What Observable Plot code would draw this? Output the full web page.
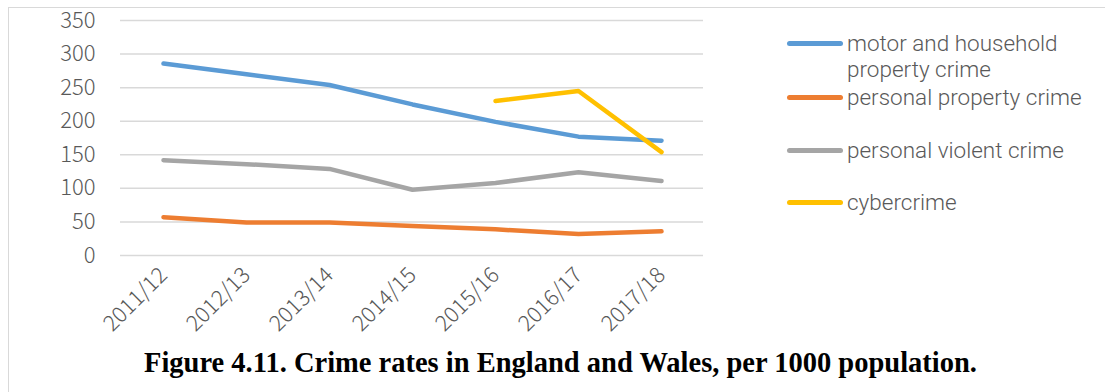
<!DOCTYPE html>
<html>
<head>
<meta charset="utf-8">
<script src="https://cdn.jsdelivr.net/npm/d3@7"></script>
<script src="https://cdn.jsdelivr.net/npm/@observablehq/plot@0.6"></script>
<style>
  html, body { margin: 0; padding: 0; background: #fff; }
  #frame {
    position: absolute; left: 8px; top: 7px; width: 1200px; height: 420px;
    border: 1.5px solid #d9d9d9; box-sizing: border-box;
  }
  #chart { position: absolute; left: 0; top: 0; }
  #legend {
    position: absolute; left: 787px; top: 29px;
    font-family: Roboto, "Noto Sans", sans-serif; font-weight: 300; font-size: 22.5px; color: #595959;
  }
  .swatch { position: absolute; left: 0; width: 56px; height: 5px; border-radius: 3px; }
  .label { position: absolute; left: 60px; white-space: nowrap; line-height: 24px; }
  #title {
    position: absolute; left: 8px; width: 1105px; top: 346px; text-align: center;
    font-family: "Liberation Serif", "Times New Roman", serif; font-weight: bold; font-size: 28.5px; color: #000;
    line-height: 34px;
  }
</style>
</head>
<body>
<div id="frame"></div>
<div id="chart"></div>
<div id="legend"></div>
<div id="title">Figure 4.11. Crime rates in England and Wales, per 1000 population.</div>
<script>
const years = ["2011/12", "2012/13", "2013/14", "2014/15", "2015/16", "2016/17", "2017/18"];
const seriesNames = ["motor and household property crime", "personal property crime", "personal violent crime", "cybercrime"];
const seriesColors = ["#5b9bd5", "#ed7d31", "#a5a5a5", "#ffc000"];
const motorHousehold = [286, 270, 254, 225, 199, 177, 171];
const personalProperty = [57, 49, 49, 44, 39, 32, 36];
const personalViolent = [142, 136, 129, 98, 108, 124, 111];
const cybercrime = [null, null, null, null, 230, 245, 154];
const yTicks = [0, 50, 100, 150, 200, 250, 300, 350];

const seriesValues = [motorHousehold, personalProperty, personalViolent, cybercrime];
const rows = seriesNames.flatMap((name, i) =>
  years.map((year, j) => ({series: name, year, value: seriesValues[i][j]}))
    .filter(d => d.value != null)
);

const chart = Plot.plot({
  width: 1105,
  height: 340,
  marginLeft: 120,
  marginRight: 402,
  marginTop: 20,
  marginBottom: 85,
  style: {fontFamily: "'Noto Sans CJK SC', 'Noto Sans', sans-serif", fontWeight: 300, color: "#595959", background: "transparent"},
  x: {type: "point", domain: years, padding: 0.5},
  y: {domain: [0, 350]},
  color: {domain: seriesNames, range: seriesColors},
  marks: [
    Plot.ruleY(yTicks, {stroke: "#d9d9d9", strokeWidth: 1.5}),
    Plot.axisY({ticks: yTicks, tickSize: 0, tickPadding: 25, fontSize: 22, label: null}),
    Plot.axisX({tickSize: 0, tickRotate: -45, tickPadding: 16, fontSize: 22, label: null}),
    Plot.line(rows, {x: "year", y: "value", z: "series", stroke: "series", strokeWidth: 4.5, strokeLinecap: "round", strokeLinejoin: "round"})
  ]
});
document.getElementById("chart").appendChild(chart);

// legend: "motor and household property crime" wraps onto two lines
const legendLines = [["motor and household", "property crime"], ["personal property crime"], ["personal violent crime"], ["cybercrime"]];
const legendTops = [0, 54, 107, 159];
const legend = document.getElementById("legend");
seriesNames.forEach((name, i) => {
  const sw = document.createElement("div");
  sw.className = "swatch";
  sw.style.background = seriesColors[i];
  sw.style.top = (legendTops[i] + 12) + "px";
  legend.appendChild(sw);
  legendLines[i].forEach((line, k) => {
    const lab = document.createElement("div");
    lab.className = "label";
    lab.style.top = (legendTops[i] + 2 + k * 26) + "px";
    lab.textContent = line;
    legend.appendChild(lab);
  });
});
</script>
</body>
</html>
